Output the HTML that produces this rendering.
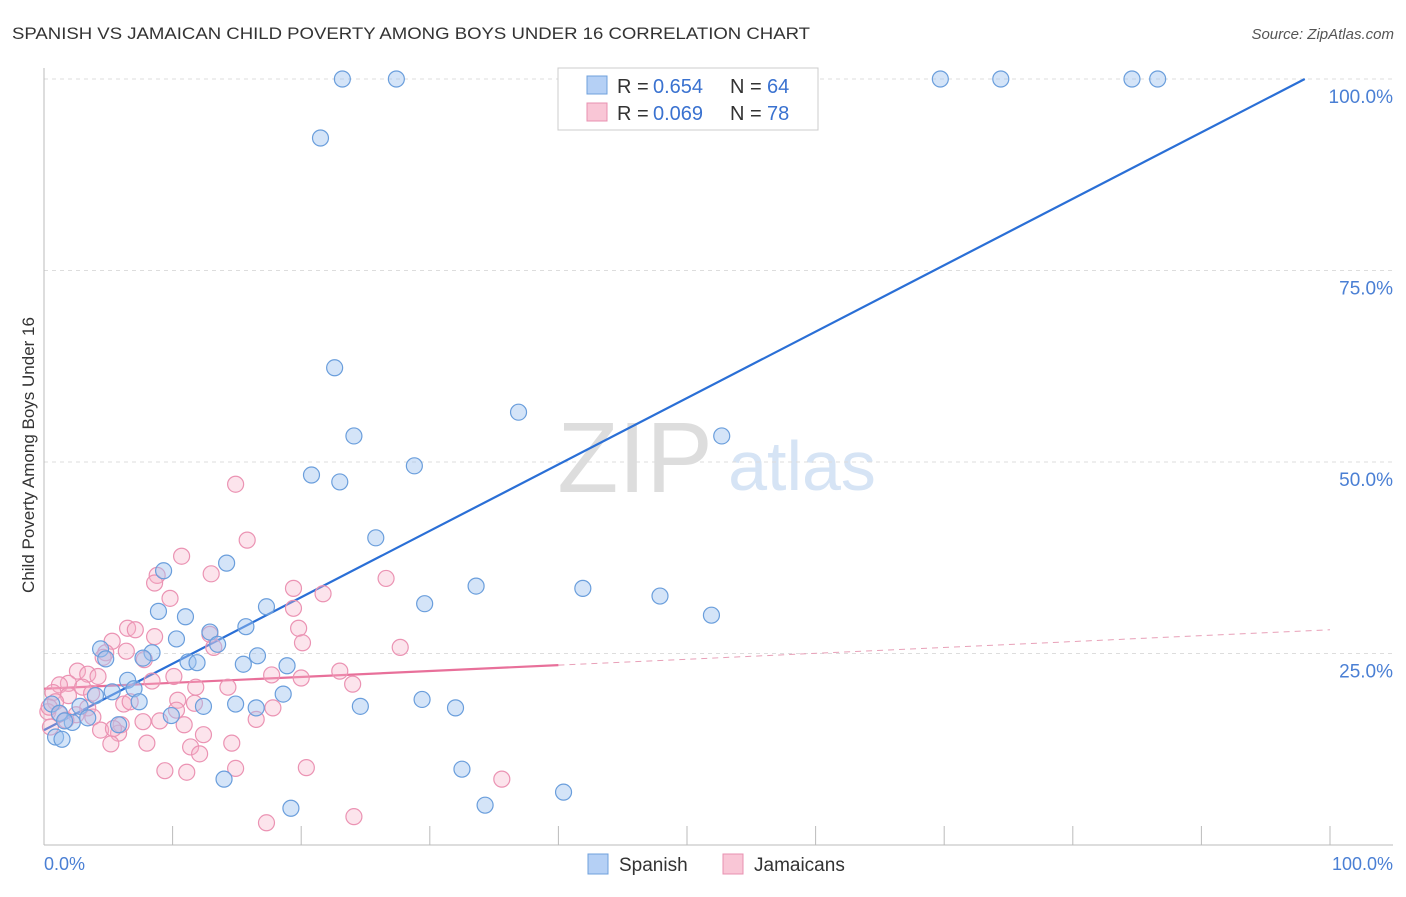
<!DOCTYPE html>
<html><head><meta charset="utf-8"><style>
body{margin:0;background:#fff;font-family:"Liberation Sans",sans-serif;}
svg text{font-family:"Liberation Sans",sans-serif;}
</style></head><body>
<svg id="chart" width="1406" height="892" viewBox="0 0 1406 892">
<text x="12" y="39" font-size="17" fill="#333" textLength="798" lengthAdjust="spacingAndGlyphs">SPANISH VS JAMAICAN CHILD POVERTY AMONG BOYS UNDER 16 CORRELATION CHART</text>
<text x="1394" y="39" font-size="15" fill="#555" text-anchor="end" font-style="italic">Source: ZipAtlas.com</text>
<text x="34" y="455" font-size="17" fill="#333" text-anchor="middle" transform="rotate(-90 34 455)">Child Poverty Among Boys Under 16</text>
<g>
<text x="635" y="492" font-size="100" fill="#ddd" text-anchor="middle" font-family="Liberation Serif">ZIP</text>
<text x="802" y="490" font-size="70" fill="#d6e4f5" text-anchor="middle">atlas</text>
</g>
<g id="grid"></g><g id="axes"></g><g id="lines"></g><g id="pts"></g>
<g>
<rect x="558" y="68" width="260" height="62" fill="#fff" stroke="#ccc"/>
<rect x="587" y="76" width="20" height="18" fill="#b5d0f5" stroke="#6fa0dc"/>
<text y="93" font-size="20" fill="#333"><tspan x="617">R =</tspan><tspan x="653" fill="#3a72d0">0.654</tspan><tspan x="730">N =</tspan><tspan x="767" fill="#3a72d0">64</tspan></text>
<rect x="587" y="103" width="20" height="18" fill="#f9c6d6" stroke="#e890b0"/>
<text y="120" font-size="20" fill="#333"><tspan x="617">R =</tspan><tspan x="653" fill="#3a72d0">0.069</tspan><tspan x="730">N =</tspan><tspan x="767" fill="#3a72d0">78</tspan></text>
</g>
<g>
<rect x="588" y="854" width="20" height="20" fill="#b5d0f5" stroke="#6fa0dc"/>
<text x="619" y="871" font-size="19" fill="#333">Spanish</text>
<rect x="723" y="854" width="20" height="20" fill="#f9c6d6" stroke="#e890b0"/>
<text x="754" y="871" font-size="19" fill="#333">Jamaicans</text>
</g>
</svg>
<script>
const yTicks=[25,50,75,100];
const yTickLabels=["25.0%","50.0%","75.0%","100.0%"];
const xTicks=[0,10,20,30,40,50,60,70,80,90,100];
const spanishX=[23.2,27.4,69.7,74.4,84.6,86.6,21.5,22.6,36.9,24.1,52.7,28.8,20.8,23,25.8,14.2,9.3,33.6,41.9,47.9,17.3,29.6,8.9,11,51.9,15.7,12.9,10.3,4.4,8.4,13.5,4.8,7.7,16.6,11.2,11.9,15.5,18.9,6.5,7,5.3,18.6,4,7.4,12.4,14.9,16.5,24.6,29.4,32,2.8,0.6,1.2,3.4,2.2,5.8,9.9,1.6,0.9,1.4,14,32.5,19.2,34.3,40.4];
const spanishY=[100,100,100,100,100,100,92.3,62.3,56.5,53.4,53.4,49.5,48.3,47.4,40.1,36.8,35.8,33.8,33.5,32.5,31.1,31.5,30.5,29.8,30,28.5,27.8,26.9,25.6,25.1,26.2,24.3,24.4,24.7,23.9,23.8,23.6,23.4,21.5,20.4,20,19.7,19.5,18.7,18.1,18.4,17.9,18.1,19,17.9,18.1,18.4,17.2,16.6,16,15.7,16.9,16.2,14.1,13.8,8.6,9.9,4.8,5.2,6.9];
const jamaicaX=[14.9,15.8,10.7,8.8,13,26.6,8.6,19.4,21.7,9.8,19.4,6.5,7.1,8.6,5.3,19.8,12.9,13.2,20.1,27.7,4.8,6.4,4.6,7.8,2.6,3.4,4.2,23,17.7,20,10.1,1.9,3,1.2,8.4,11.8,14.3,24,0.7,1.9,3.7,0.9,6.2,10.4,11.7,6.7,17.8,3.4,0.3,1.2,2.5,3.8,10.3,6,7.7,9,10.9,16.5,0.5,1.7,4.4,5.8,12.4,5.2,8,11.4,14.6,12.1,9.4,11.1,14.9,20.4,35.6,17.3,24.1,5.4,0.4];
const jamaicaY=[47.1,39.8,37.7,35.2,35.4,34.8,34.2,33.5,32.8,32.2,30.9,28.3,28.1,27.2,26.6,28.3,27.5,25.8,26.4,25.8,25.1,25.3,24.5,24.2,22.7,22.3,22,22.7,22.2,21.8,22,21.1,20.6,20.9,21.4,20.6,20.6,21,19.9,19.5,19.8,18.7,18.4,18.9,18.5,18.7,17.9,17.9,17.4,17.1,17,16.7,17.6,15.7,16.1,16.2,15.7,16.4,15.4,16.3,15,14.6,14.4,13.2,13.3,12.8,13.3,11.9,9.7,9.5,10,10.1,8.6,2.9,3.7,15.2,18];
const spanishFit=[15,101.7];
const jamaicaFit=[20.4,28.1];
const NS="http://www.w3.org/2000/svg";
const X0=44,X1=1330,Y0=845,Y100=79;
const sx=v=>X0+(X1-X0)*v/100;
const sy=v=>Y0-(Y0-Y100)*v/100;
function mk(tag,attrs,parent){const e=document.createElementNS(NS,tag);for(const k in attrs)e.setAttribute(k,attrs[k]);parent.appendChild(e);return e;}
const grid=document.getElementById('grid'),axes=document.getElementById('axes'),lines=document.getElementById('lines'),pts=document.getElementById('pts');
yTicks.forEach((t,i)=>{
 const l=mk('line',{x1:44,x2:1393,y1:sy(t),y2:sy(t),stroke:'#ddd','stroke-dasharray':'4,4'},grid);
 
 
 const tx=mk('text',{x:1393,y:sy(t)+24,'font-size':19,fill:'#4a7fd4','text-anchor':'end'},axes);
 tx.textContent=yTickLabels[i];
 
 
});
const xa=mk('line',{x1:44,x2:1393,y1:845,y2:845,stroke:'#bbb'},axes);


const ya=mk('line',{x1:44,x2:44,y1:68,y2:845,stroke:'#bbb'},axes);


xTicks.forEach(t=>{
 const l=mk('line',{x1:sx(t),x2:sx(t),y1:826,y2:845,stroke:'#bbb'},axes);
 
 
});
const xl0=mk('text',{x:44,y:870,'font-size':18,fill:'#4a7fd4'},axes);xl0.textContent='0.0%';


const xl1=mk('text',{x:1393,y:870,'font-size':18,fill:'#4a7fd4','text-anchor':'end'},axes);xl1.textContent='100.0%';


const bxEnd=Math.min(100,(100-spanishFit[0])/(spanishFit[1]-spanishFit[0])*100);
const by=x=>spanishFit[0]+(spanishFit[1]-spanishFit[0])*x/100;
const bl=mk('line',{x1:sx(0),y1:sy(spanishFit[0]),x2:sx(bxEnd),y2:sy(by(bxEnd)),stroke:'#2a6fd6','stroke-width':2.2},lines);


const jy=x=>jamaicaFit[0]+(jamaicaFit[1]-jamaicaFit[0])*x/100;
const pl=mk('line',{x1:sx(0),y1:sy(jy(0)),x2:sx(40),y2:sy(jy(40)),stroke:'#e8709a','stroke-width':2.2},lines);


const pd=mk('line',{x1:sx(40),y1:sy(jy(40)),x2:sx(100),y2:sy(jy(100)),stroke:'#e8a0b8','stroke-width':1,'stroke-dasharray':'6,5'},lines);


jamaicaX.forEach((x,i)=>{
 const c=mk('circle',{cx:sx(x),cy:sy(jamaicaY[i]),r:8,fill:'rgba(246,178,200,0.35)',stroke:'#eb93b3','stroke-width':1.2},pts);
 
 
});
spanishX.forEach((x,i)=>{
 const c=mk('circle',{cx:sx(x),cy:sy(spanishY[i]),r:8,fill:'rgba(160,196,240,0.45)',stroke:'#6a9edc','stroke-width':1.2},pts);
 
 
});
</script>
</body></html>
